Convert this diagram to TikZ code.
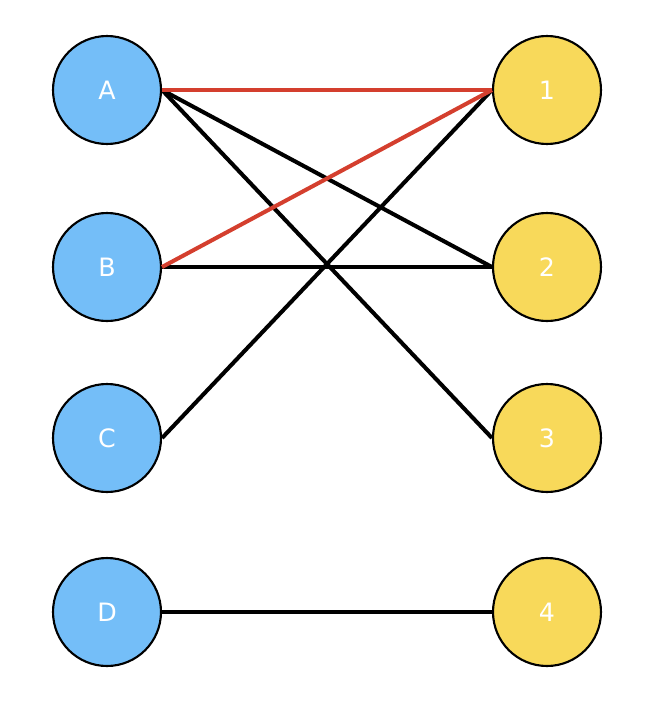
\documentclass[tikz,border=0pt]{standalone}
\usepackage{fontspec}
\setmainfont{DejaVu Sans}
\definecolor{leftblue}{HTML}{74BEF8}
\definecolor{rightyellow}{HTML}{F8D95A}
\definecolor{matchred}{HTML}{D43F2E}
\begin{document}
\begin{tikzpicture}[x=0.02cm,y=-0.02cm,
	vertex/.style = {circle, draw, line width=1.2pt, minimum size=2.16cm, inner sep=0pt, text=white, font=\Large},
	lhs/.style = {vertex, fill=leftblue},
	rhs/.style = {vertex, fill=rightyellow},
	link/.style = {line width=2.3pt},
	match/.style = {link, draw=matchred}]
	\useasboundingbox (0,0) rectangle (656,714);
	
	% left side
	\node[lhs] (A) at (107,90) {A};
	\node[lhs] (B) at (107,267) {B};
	\node[lhs] (C) at (107,438) {C};
	\node[lhs] (D) at (107,612) {D};
	
	% right side
	\node[rhs] (n1) at (547,90) {1};
	\node[rhs] (n2) at (547,267) {2};
	\node[rhs] (n3) at (547,438) {3};
	\node[rhs] (n4) at (547,612) {4};
	
	% edges
	\foreach \value in {2,3}
	\draw[link] (A.east) -- (n\value.west);
	\draw[link] (B.east) -- (n2.west);
	\draw[link] (C.east) -- (n1.west);
	\draw[link] (D.east) -- (n4.west);
	
	% matching
	\draw[match] (A.east) -- (n1.west);
	\draw[match] (B.east) -- (n1.west);
\end{tikzpicture}
\end{document}
